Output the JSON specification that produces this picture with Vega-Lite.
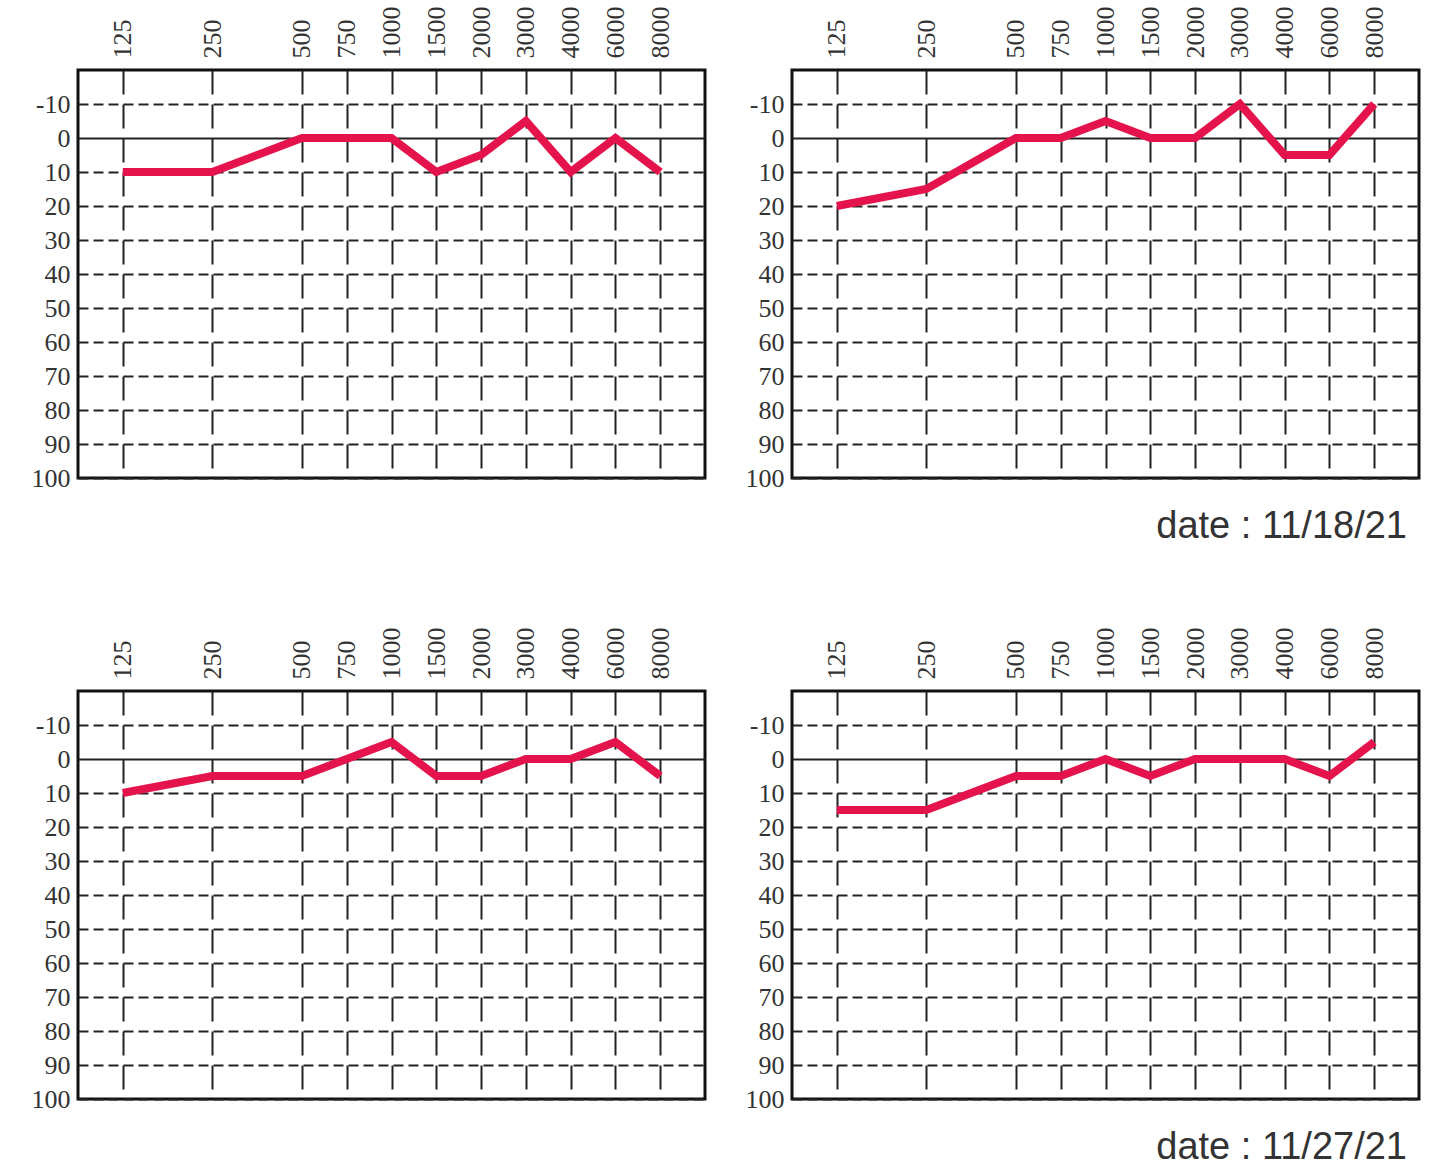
{
  "$schema": "https://vega.github.io/schema/vega-lite/v6.json",
  "padding": {"left": 29, "top": 4, "right": 10, "bottom": 5},
  "background": "white",
  "data": {
    "values": [
      {"panel": "A", "freq": "125", "db": 10},
      {"panel": "A", "freq": "250", "db": 10},
      {"panel": "A", "freq": "500", "db": 0},
      {"panel": "A", "freq": "750", "db": 0},
      {"panel": "A", "freq": "1000", "db": 0},
      {"panel": "A", "freq": "1500", "db": 10},
      {"panel": "A", "freq": "2000", "db": 5},
      {"panel": "A", "freq": "3000", "db": -5},
      {"panel": "A", "freq": "4000", "db": 10},
      {"panel": "A", "freq": "6000", "db": 0},
      {"panel": "A", "freq": "8000", "db": 10},
      {"panel": "B", "freq": "125", "db": 20},
      {"panel": "B", "freq": "250", "db": 15},
      {"panel": "B", "freq": "500", "db": 0},
      {"panel": "B", "freq": "750", "db": 0},
      {"panel": "B", "freq": "1000", "db": -5},
      {"panel": "B", "freq": "1500", "db": 0},
      {"panel": "B", "freq": "2000", "db": 0},
      {"panel": "B", "freq": "3000", "db": -10},
      {"panel": "B", "freq": "4000", "db": 5},
      {"panel": "B", "freq": "6000", "db": 5},
      {"panel": "B", "freq": "8000", "db": -10},
      {"panel": "C", "freq": "125", "db": 10},
      {"panel": "C", "freq": "250", "db": 5},
      {"panel": "C", "freq": "500", "db": 5},
      {"panel": "C", "freq": "750", "db": 0},
      {"panel": "C", "freq": "1000", "db": -5},
      {"panel": "C", "freq": "1500", "db": 5},
      {"panel": "C", "freq": "2000", "db": 5},
      {"panel": "C", "freq": "3000", "db": 0},
      {"panel": "C", "freq": "4000", "db": 0},
      {"panel": "C", "freq": "6000", "db": -5},
      {"panel": "C", "freq": "8000", "db": 5},
      {"panel": "D", "freq": "125", "db": 15},
      {"panel": "D", "freq": "250", "db": 15},
      {"panel": "D", "freq": "500", "db": 5},
      {"panel": "D", "freq": "750", "db": 5},
      {"panel": "D", "freq": "1000", "db": 0},
      {"panel": "D", "freq": "1500", "db": 5},
      {"panel": "D", "freq": "2000", "db": 0},
      {"panel": "D", "freq": "3000", "db": 0},
      {"panel": "D", "freq": "4000", "db": 0},
      {"panel": "D", "freq": "6000", "db": 5},
      {"panel": "D", "freq": "8000", "db": -5}
    ]
  },
  "spacing": 77,
  "vconcat": [
    {
      "spacing": 36,
      "hconcat": [
        {
          "width": 627,
          "height": 408,
          "transform": [{"filter": "datum.panel === 'A'"}],
          "mark": {"type": "line", "color": "#E5134B", "strokeWidth": 8},
          "encoding": {
            "x": {
              "field": "freq", "type": "ordinal", "sort": null,
              "scale": {"type": "point", "padding": 1, "domain": ["125", "gap1", "250", "gap2", "500", "750", "1000", "1500", "2000", "3000", "4000", "6000", "8000"]},
              "axis": {"orient": "top", "title": null, "values": ["125", "250", "500", "750", "1000", "1500", "2000", "3000", "4000", "6000", "8000"]}
            },
            "y": {
              "field": "db", "type": "quantitative",
              "scale": {"domain": [-20, 100], "reverse": true, "nice": false, "zero": false},
              "axis": {"title": null, "values": [-10, 0, 10, 20, 30, 40, 50, 60, 70, 80, 90, 100], "labelExpr": "'' + datum.value",
                       "gridDash": {"condition": {"test": "datum.value === 0", "value": []}, "value": [10, 5]}}
            },
            "order": {"value": null}
          }
        },
        {
          "width": 627,
          "height": 408,
          "title": {"text": "date : 11/18/21", "orient": "bottom", "anchor": "end", "offset": 17, "dx": -12},
          "transform": [{"filter": "datum.panel === 'B'"}],
          "mark": {"type": "line", "color": "#E5134B", "strokeWidth": 8},
          "encoding": {
            "x": {
              "field": "freq", "type": "ordinal", "sort": null,
              "scale": {"type": "point", "padding": 1, "domain": ["125", "gap1", "250", "gap2", "500", "750", "1000", "1500", "2000", "3000", "4000", "6000", "8000"]},
              "axis": {"orient": "top", "title": null, "values": ["125", "250", "500", "750", "1000", "1500", "2000", "3000", "4000", "6000", "8000"]}
            },
            "y": {
              "field": "db", "type": "quantitative",
              "scale": {"domain": [-20, 100], "reverse": true, "nice": false, "zero": false},
              "axis": {"title": null, "values": [-10, 0, 10, 20, 30, 40, 50, 60, 70, 80, 90, 100], "labelExpr": "'' + datum.value",
                       "gridDash": {"condition": {"test": "datum.value === 0", "value": []}, "value": [10, 5]}}
            },
            "order": {"value": null}
          }
        }
      ]
    },
    {
      "spacing": 36,
      "hconcat": [
        {
          "width": 627,
          "height": 408,
          "transform": [{"filter": "datum.panel === 'C'"}],
          "mark": {"type": "line", "color": "#E5134B", "strokeWidth": 8},
          "encoding": {
            "x": {
              "field": "freq", "type": "ordinal", "sort": null,
              "scale": {"type": "point", "padding": 1, "domain": ["125", "gap1", "250", "gap2", "500", "750", "1000", "1500", "2000", "3000", "4000", "6000", "8000"]},
              "axis": {"orient": "top", "title": null, "values": ["125", "250", "500", "750", "1000", "1500", "2000", "3000", "4000", "6000", "8000"]}
            },
            "y": {
              "field": "db", "type": "quantitative",
              "scale": {"domain": [-20, 100], "reverse": true, "nice": false, "zero": false},
              "axis": {"title": null, "values": [-10, 0, 10, 20, 30, 40, 50, 60, 70, 80, 90, 100], "labelExpr": "'' + datum.value",
                       "gridDash": {"condition": {"test": "datum.value === 0", "value": []}, "value": [10, 5]}}
            },
            "order": {"value": null}
          }
        },
        {
          "width": 627,
          "height": 408,
          "title": {"text": "date : 11/27/21", "orient": "bottom", "anchor": "end", "offset": 17, "dx": -12},
          "transform": [{"filter": "datum.panel === 'D'"}],
          "mark": {"type": "line", "color": "#E5134B", "strokeWidth": 8},
          "encoding": {
            "x": {
              "field": "freq", "type": "ordinal", "sort": null,
              "scale": {"type": "point", "padding": 1, "domain": ["125", "gap1", "250", "gap2", "500", "750", "1000", "1500", "2000", "3000", "4000", "6000", "8000"]},
              "axis": {"orient": "top", "title": null, "values": ["125", "250", "500", "750", "1000", "1500", "2000", "3000", "4000", "6000", "8000"]}
            },
            "y": {
              "field": "db", "type": "quantitative",
              "scale": {"domain": [-20, 100], "reverse": true, "nice": false, "zero": false},
              "axis": {"title": null, "values": [-10, 0, 10, 20, 30, 40, 50, 60, 70, 80, 90, 100], "labelExpr": "'' + datum.value",
                       "gridDash": {"condition": {"test": "datum.value === 0", "value": []}, "value": [10, 5]}}
            },
            "order": {"value": null}
          }
        }
      ]
    }
  ],
  "config": {
    "view": {"stroke": "#111", "strokeWidth": 3},
    "axis": {
      "grid": true,
      "gridColor": "#222",
      "gridWidth": 2,
      "gridOpacity": 1,
      "ticks": false,
      "domain": false,
      "labelFont": "Liberation Serif, serif",
      "labelFontSize": 26,
      "labelColor": "#333"
    },
    "axisX": {"labelAngle": -90, "labelPadding": 12, "gridDash": [24, 10]},
    "axisY": {"labelPadding": 8},
    "title": {
      "font": "Liberation Sans, Arial, sans-serif",
      "fontSize": 38,
      "fontWeight": "normal",
      "color": "#333"
    }
  }
}
